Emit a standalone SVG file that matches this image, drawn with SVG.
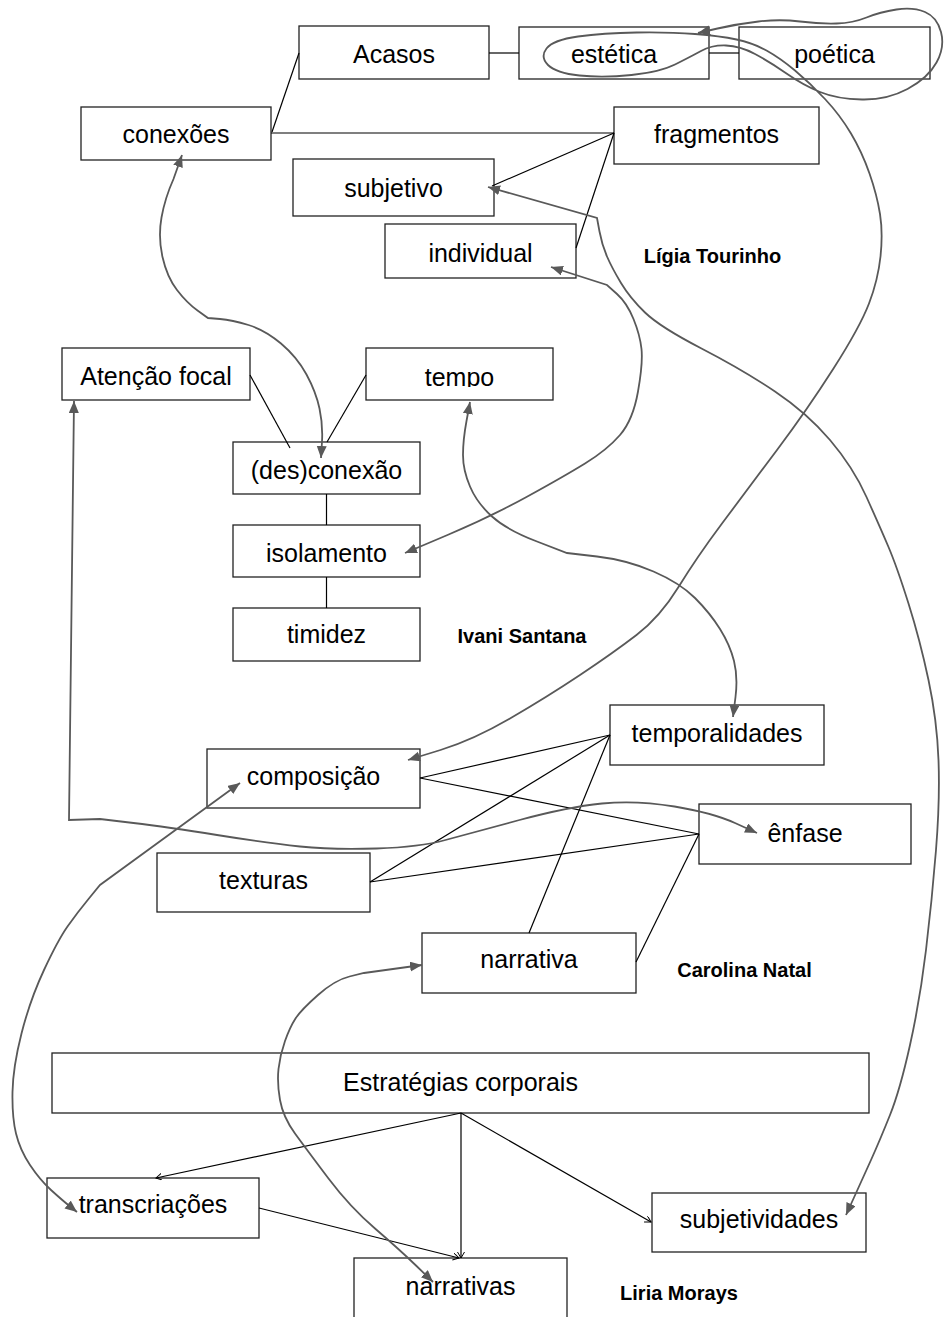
<svg xmlns="http://www.w3.org/2000/svg" width="945" height="1317" viewBox="0 0 945 1317">
<style>
.box rect{fill:#fff;stroke:#222;stroke-width:1.3}
.box text{font-family:"Liberation Sans",Arial,Helvetica,sans-serif;font-size:25px;fill:#000;text-anchor:middle}
.lbl{font-family:"Liberation Sans",Arial,Helvetica,sans-serif;font-size:20px;font-weight:bold;fill:#000;text-anchor:middle}
.ln{stroke:#000;stroke-width:1.2;fill:none}
.ar{stroke:#000;stroke-width:1.2;fill:none;marker-end:url(#sa)}
.cv{stroke:#595959;stroke-width:1.8;fill:none;marker-start:url(#ga);marker-end:url(#ga)}
</style>
<defs>
<marker id="ga" markerUnits="userSpaceOnUse" markerWidth="14" markerHeight="12" refX="12" refY="5" orient="auto-start-reverse"><path d="M0,0 L12,5 L0,10 z" fill="#595959"/></marker>
<marker id="sa" markerUnits="userSpaceOnUse" markerWidth="8" markerHeight="8" refX="6" refY="3.5" orient="auto"><path d="M0,0 L6,3.5 L0,7" fill="none" stroke="#000" stroke-width="1"/></marker>
<clipPath id="tclip"><rect x="366" y="348" width="187" height="39"/></clipPath>
</defs>
<rect width="945" height="1317" fill="#fff"/>

<g id="n-acasos" class="box"><rect x="299" y="26" width="190" height="53"/><text x="394" y="63">Acasos</text></g>
<g id="n-estetica" class="box"><rect x="519" y="27" width="190" height="52"/><text x="614" y="63">estética</text></g>
<g id="n-poetica" class="box"><rect x="739" y="27" width="191" height="52"/><text x="834.5" y="63">poética</text></g>
<g id="n-conexoes" class="box"><rect x="81" y="107" width="190" height="53"/><text x="176" y="143">conexões</text></g>
<g id="n-fragmentos" class="box"><rect x="614" y="107" width="205" height="57"/><text x="716.5" y="143">fragmentos</text></g>
<g id="n-subjetivo" class="box"><rect x="293" y="159" width="201" height="57"/><text x="393.5" y="197">subjetivo</text></g>
<g id="n-individual" class="box"><rect x="385" y="224" width="191" height="54"/><text x="480.5" y="262">individual</text></g>
<text id="l-ligia" class="lbl" x="712.5" y="263">Lígia Tourinho</text>

<g id="n-atencao" class="box"><rect x="62" y="348" width="188" height="52"/><text x="156" y="385">Atenção focal</text></g>
<g id="n-tempo" class="box"><rect x="366" y="348" width="187" height="52"/><text x="459.5" y="386" clip-path="url(#tclip)">tempo</text></g>
<g id="n-desconexao" class="box"><rect x="233" y="442" width="187" height="52"/><text x="326.5" y="479">(des)conexão</text></g>
<g id="n-isolamento" class="box"><rect x="233" y="525" width="187" height="52"/><text x="326.5" y="562">isolamento</text></g>
<g id="n-timidez" class="box"><rect x="233" y="608" width="187" height="53"/><text x="326.5" y="643">timidez</text></g>
<text id="l-ivani" class="lbl" x="522" y="643">Ivani Santana</text>

<g id="n-temporalidades" class="box"><rect x="610" y="705" width="214" height="60"/><text x="717" y="742">temporalidades</text></g>
<g id="n-composicao" class="box"><rect x="207" y="749" width="213" height="59"/><text x="313.5" y="785">composição</text></g>
<g id="n-enfase" class="box"><rect x="699" y="804" width="212" height="60"/><text x="805" y="842">ênfase</text></g>
<g id="n-texturas" class="box"><rect x="157" y="853" width="213" height="59"/><text x="263.5" y="889">texturas</text></g>
<g id="n-narrativa" class="box"><rect x="422" y="933" width="214" height="60"/><text x="529" y="968">narrativa</text></g>
<text id="l-carolina" class="lbl" x="744.5" y="977">Carolina Natal</text>

<g id="n-estrategias" class="box"><rect x="52" y="1053" width="817" height="60"/><text x="460.5" y="1091">Estratégias corporais</text></g>
<g id="n-transcriacoes" class="box"><rect x="47" y="1178" width="212" height="60"/><text x="153" y="1213">transcriações</text></g>
<g id="n-subjetividades" class="box"><rect x="652" y="1193" width="214" height="59"/><text x="759" y="1228">subjetividades</text></g>
<g id="n-narrativas" class="box"><rect x="354" y="1258" width="213" height="70"/><text x="460.5" y="1295">narrativas</text></g>
<text id="l-liria" class="lbl" x="679" y="1300">Liria Morays</text>

<g id="connectors">
<line class="ln" x1="272" y1="132" x2="299" y2="53"/>
<line class="ln" x1="271" y1="133" x2="614" y2="133"/>
<line class="ln" x1="489" y1="53" x2="519" y2="53"/>
<line class="ln" x1="709" y1="53" x2="739" y2="53"/>
<line class="ln" x1="614" y1="133" x2="492" y2="186"/>
<line class="ln" x1="614" y1="133" x2="576" y2="248"/>
<line class="ln" x1="250" y1="375" x2="290" y2="448"/>
<line class="ln" x1="366" y1="375" x2="327" y2="442"/>
<line class="ln" x1="326.5" y1="494" x2="326.5" y2="525"/>
<line class="ln" x1="326.5" y1="577" x2="326.5" y2="608"/>
<line class="ln" x1="420" y1="778" x2="610" y2="735"/>
<line class="ln" x1="420" y1="778" x2="699" y2="834"/>
<line class="ln" x1="370" y1="882" x2="610" y2="735"/>
<line class="ln" x1="370" y1="882" x2="699" y2="834"/>
<line class="ln" x1="529" y1="933" x2="610" y2="735"/>
<line class="ln" x1="636" y1="962" x2="699" y2="834"/>
<line class="ar" x1="461" y1="1113" x2="156" y2="1178"/>
<line class="ar" x1="461" y1="1113" x2="461" y2="1258"/>
<line class="ar" x1="461" y1="1113" x2="651" y2="1222"/>
<line class="ar" x1="259" y1="1208" x2="459" y2="1258"/>

<path class="cv" d="M408,760 L440.5,750 Q473,740 510,718.5 Q547,697 580,675 Q613,653 636.5,635 Q660,617 678.5,587 Q697,557 722,523.5 Q747,490 777,450 Q807,410 833.5,368.5 Q860,327 869,303.5 Q878,280 880.5,256.5 Q883,233 880,214 Q877,195 869.5,173.5 Q862,152 851,133.5 Q840,115 825,99 Q810,83 795,70.5 Q780,58 766.5,50.5 Q753,43 736.5,39.5 Q720,36 695,34 Q670,32 636.5,32.5 Q603,33 578,36.5 Q553,40 546.5,48.5 Q540,57 548,65 Q556,73 579.5,75.5 Q603,78 631.5,75 Q660,72 675,64.5 Q690,57 701,51 Q712,45 726,45.5 Q740,46 755,54 Q770,62 786.5,73.5 Q803,85 820,92 Q837,99 862,99.5 Q887,100 907.5,89 Q928,78 936.5,62.5 Q945,47 941,32 Q937,17 925,12 Q913,7 896.5,9.5 Q880,12 866.5,17.5 Q853,23 836.5,23.5 Q820,24 800,21.5 Q780,19 758.5,21.5 Q737,24 717.5,28.5 L698,33"/>
<path class="cv" d="M182,155 L173.5,179 Q165,198 161.5,217.5 Q158,237 162.5,257 Q167,277 177,290 Q187,303 197.5,310.5 L208,318 L220,319 Q232,320 248.5,325 Q265,330 281,343.5 Q297,357 306.5,374.5 Q316,392 319.5,408.5 Q323,425 322,441.5 L321,458"/>
<path class="cv" d="M551,267 L607,285 L617,294 Q627,303 633.5,319 Q640,335 641.5,349 Q643,363 638,391.5 Q633,420 620,435 Q607,450 585,463.5 Q563,477 526.5,497 Q490,517 447.5,535 L405,553"/>
<path class="cv" d="M488,187 L597,218 L599.5,231.5 Q602,245 607,256.5 Q612,268 621,283 Q630,298 645,312.5 Q660,327 701.5,348.5 Q743,370 775,391.5 Q807,413 830,440 Q853,467 866.5,497 Q880,527 888.5,547 Q897,567 908.5,603.5 Q920,640 928.5,680 Q937,720 938.5,760 Q940,800 936,850 Q932,900 926,950 Q920,1000 910,1045 Q900,1090 890,1115 Q880,1140 871,1160 Q862,1180 854,1197.5 L846,1215"/>
<path class="cv" d="M470,402 L466.5,421 Q463,440 463,455 Q463,470 470,486.5 Q477,503 492,516.5 Q507,530 537,541.5 L567,553 L597,556.5 Q627,560 653.5,571.5 Q680,583 695,598 Q710,613 720,629 Q730,645 734,661 Q738,677 735.5,697 L733,717"/>
<path class="cv" d="M74,401 L69,820 L100,819 L133.5,823 Q167,827 217,835 Q267,843 300,846.5 Q333,850 376.5,848.5 Q420,847 445.5,840 Q471,833 519.5,820 Q568,807 602,803.5 Q636,800 674.5,806.5 Q713,813 735,823 L757,833"/>
<path class="cv" d="M240,783 L100,885 L88.5,899 Q77,913 67.5,926.5 Q58,940 44,970 Q30,1000 21.5,1033.5 Q13,1067 12.5,1092 Q12,1117 16,1133.5 Q20,1150 30,1165 Q40,1180 51,1190 Q62,1200 69.5,1206 L77,1212"/>
<path class="cv" d="M422,965 L364,973 L349.5,976.5 Q335,980 318,995 Q301,1010 295.5,1018.5 Q290,1027 285,1041 Q280,1055 278.5,1069 Q277,1083 280,1100 Q283,1117 295,1133.5 Q307,1150 328.5,1178.5 Q350,1207 375,1228.5 Q400,1250 416.5,1266 L433,1282"/>
</g>
</svg>
